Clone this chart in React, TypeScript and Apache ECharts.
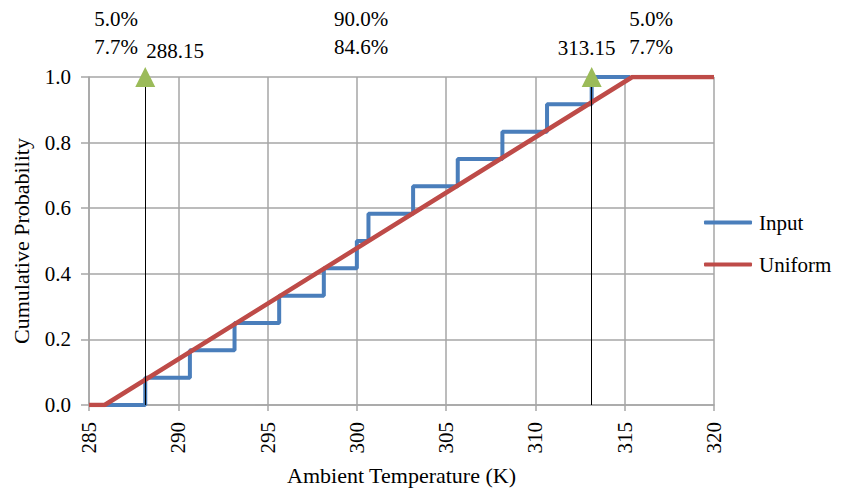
import React, { useEffect, useRef } from "react";
import * as echarts from "echarts";

const xTicks = [285, 290, 295, 300, 305, 310, 315, 320];
const inputX = [285, 288.15, 288.15, 290.65, 290.65, 293.15, 293.15, 295.65, 295.65, 298.15, 298.15, 300.0, 300.0, 300.65, 300.65, 303.15, 303.15, 305.65, 305.65, 308.15, 308.15, 310.65, 310.65, 313.15, 313.15, 315.3];
const inputY = [0, 0, 0.0833, 0.0833, 0.1667, 0.1667, 0.25, 0.25, 0.3333, 0.3333, 0.4167, 0.4167, 0.5, 0.5, 0.5833, 0.5833, 0.6667, 0.6667, 0.75, 0.75, 0.8333, 0.8333, 0.9167, 0.9167, 1.0, 1.0];
const uniformX = [285, 285.875, 315.425, 320];
const uniformY = [0, 0, 1, 1];
const markerX = [288.15, 313.15];
const markerLabels = ["288.15", "313.15"];
const leftPct = ["5.0%", "7.7%"];
const midPct = ["90.0%", "84.6%"];
const rightPct = ["5.0%", "7.7%"];

const FONT = "Liberation Serif";

export default function App() {
  const ref = useRef<HTMLDivElement>(null);
  useEffect(() => {
    document.body.style.margin = "0";
    const chart = echarts.init(ref.current!, null, { renderer: "svg" });
    const textStyle = { fontFamily: FONT, fontSize: 21, fill: "#000" };
    const pctText = (arr: string[], cx: number) =>
      arr.map((t, i) => ({
        type: "text",
        x: cx,
        y: 19 + i * 28,
        style: { ...textStyle, text: t, textAlign: "center", textVerticalAlign: "middle" },
      }));
    chart.setOption({
      animation: false,
      backgroundColor: "#fff",
      textStyle: { fontFamily: FONT },
      grid: { left: 89, right: 131, top: 77, bottom: 83, containLabel: false },
      legend: {
        orient: "vertical",
        left: 699,
        top: 207,
        itemGap: 21,
        itemWidth: 48,
        itemHeight: 4,
        icon: "roundRect",
        textStyle: { fontFamily: FONT, fontSize: 21, color: "#000", padding: [0, 0, 0, 2] },
        data: ["Input", "Uniform"],
      },
      xAxis: {
        type: "value",
        min: 285,
        max: 320,
        interval: 5,
        name: "Ambient Temperature (K)",
        nameLocation: "middle",
        nameGap: 59,
        nameTextStyle: { fontFamily: FONT, fontSize: 22, color: "#000" },
        axisLine: { show: true, onZero: false, lineStyle: { color: "#a6a6a6", width: 1.5 } },
        axisTick: { show: true, length: 6, lineStyle: { color: "#a6a6a6", width: 1.5 } },
        axisLabel: {
          rotate: 90,
          margin: 17,
          fontFamily: FONT,
          fontSize: 21,
          color: "#000",
          formatter: (v: number) => (xTicks.includes(v) ? String(v) : ""),
        },
        splitLine: { show: true, lineStyle: { color: "#a6a6a6", width: 1.5 } },
      },
      yAxis: {
        type: "value",
        min: 0,
        max: 1,
        interval: 0.2,
        name: "Cumulative Probability",
        nameLocation: "middle",
        nameGap: 57,
        nameRotate: 90,
        nameTextStyle: { fontFamily: FONT, fontSize: 22, color: "#000" },
        axisLine: { show: true, lineStyle: { color: "#a6a6a6", width: 1.5 } },
        axisTick: { show: true, length: 8, lineStyle: { color: "#a6a6a6", width: 1.5 } },
        axisLabel: {
          margin: 18,
          fontFamily: FONT,
          fontSize: 21,
          color: "#000",
          formatter: (v: number) => v.toFixed(1),
        },
        splitLine: { show: true, lineStyle: { color: "#a6a6a6", width: 1.5 } },
      },
      series: [
        {
          name: "Input",
          type: "line",
          showSymbol: false,
          symbol: "none",
          data: inputX.map((x, i) => [x, inputY[i]]),
          lineStyle: { color: "#4a7ebb", width: 4 },
          itemStyle: { color: "#4a7ebb" },
          z: 2,
        },
        {
          name: "Uniform",
          type: "line",
          showSymbol: false,
          symbol: "none",
          data: uniformX.map((x, i) => [x, uniformY[i]]),
          lineStyle: { color: "#be4b48", width: 4.5 },
          itemStyle: { color: "#be4b48" },
          z: 3,
        },
        {
          name: "markers",
          type: "line",
          data: [],
          z: 4,
          markLine: {
            silent: true,
            symbol: "none",
            label: { show: false },
            lineStyle: { color: "#000", width: 1, type: "solid" },
            data: markerX.map((x) => [{ coord: [x, 0] }, { coord: [x, 1] }]),
          },
          markPoint: {
            silent: true,
            symbol: "triangle",
            symbolSize: [20, 20],
            itemStyle: { color: "#9bbb59" },
            data: markerX.map((x, i) => ({
              coord: [x, 1],
              label: {
                show: true,
                formatter: markerLabels[i],
                position: i === 0 ? [11, -27] : [-24, -30],
                fontFamily: FONT,
                fontSize: 21,
                color: "#000",
                align: "left",
                verticalAlign: "top",
              },
            })),
          },
        },
      ],
      graphic: [...pctText(leftPct, 116), ...pctText(midPct, 361), ...pctText(rightPct, 651)],
    });
    return () => chart.dispose();
  }, []);
  return <div ref={ref} style={{ width: 845, height: 491 }} />;
}
